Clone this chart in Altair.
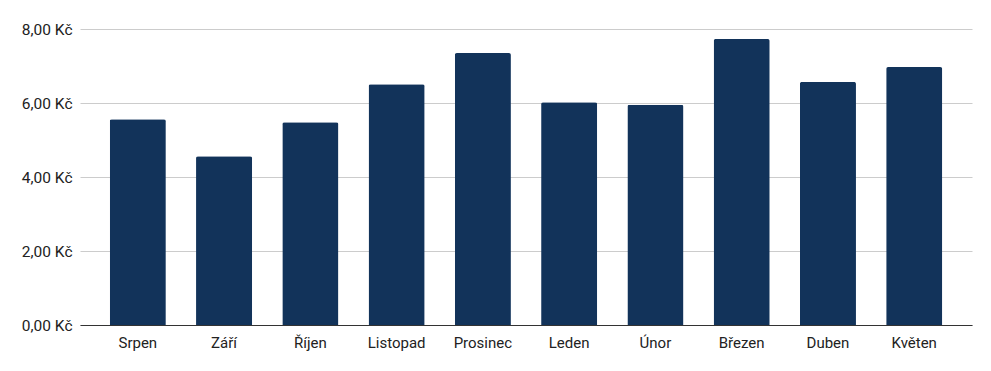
import altair as alt
import pandas as pd

months = ["Srpen", "Září", "Říjen", "Listopad", "Prosinec", "Leden", "Únor", "Březen", "Duben", "Květen"]
values = [5.56, 4.56, 5.48, 6.51, 7.35, 6.02, 5.95, 7.73, 6.57, 6.97]

df = pd.DataFrame({"mesic": months, "cena": values})

chart = alt.Chart(df).mark_bar(
    color="#12335a", cornerRadiusTopLeft=2, cornerRadiusTopRight=2
).encode(
    x=alt.X(
        "mesic:N",
        sort=months,
        title=None,
        scale=alt.Scale(paddingInner=0.35, paddingOuter=0.345),
        axis=alt.Axis(
            labelAngle=0, ticks=False, domainColor="#333333", domainWidth=1,
            labelFont="Roboto", labelFontSize=15, labelColor="#222222",
            labelPadding=10, grid=False,
        ),
    ),
    y=alt.Y(
        "cena:Q",
        title=None,
        scale=alt.Scale(domain=[0, 8], nice=False),
        axis=alt.Axis(
            values=[0, 2, 4, 6, 8], domain=False, ticks=False,
            labelExpr="replace(format(datum.value, '.2f'), '.', ',') + ' Kč'",
            labelFont="Roboto", labelFontSize=15.5, labelColor="#222222",
            labelPadding=8, gridColor="#cccccc", gridWidth=1,
        ),
    ),
).properties(
    width=892, height=296,
    autosize=alt.AutoSizeParams(type="none"),
    padding={"left": 72, "top": 21, "right": 11, "bottom": 38},
).configure_view(stroke=None)

chart.save("out.html", embed_options={"renderer": "svg", "actions": False})
